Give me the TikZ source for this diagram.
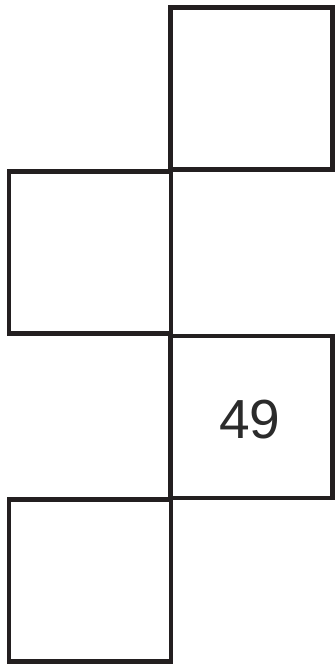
\documentclass[tikz,border=0pt]{standalone}
\usepackage{fontspec}
\setmainfont{Liberation Sans}
\definecolor{edgegray}{HTML}{231F20}
\definecolor{numgray}{HTML}{2B2B2B}
\begin{document}
\begin{tikzpicture}[x=0.03cm, y=-0.03cm,
    face/.style={draw=edgegray, line width=0.14cm, minimum size=4.86cm,
      inner sep=0pt, font=\fontsize{47}{47}\selectfont, text=numgray}]
    % 画布范围
    \useasboundingbox (0,0) rectangle (335,666);

    % 立方体展开图的四个面
    \node[face] (top)   at (251.5, 88.5) {};
    \node[face] (upper) at (90, 252.5) {};
    \node[face] (mid)   at (251.5, 417) {};
    \node[face] (lower) at (90, 580.5) {};

    % 中间面上的数字
    \node[font=\fontsize{47}{47}\selectfont, text=numgray] (num) at (250, 420) {49};
  \end{tikzpicture}
\end{document}
